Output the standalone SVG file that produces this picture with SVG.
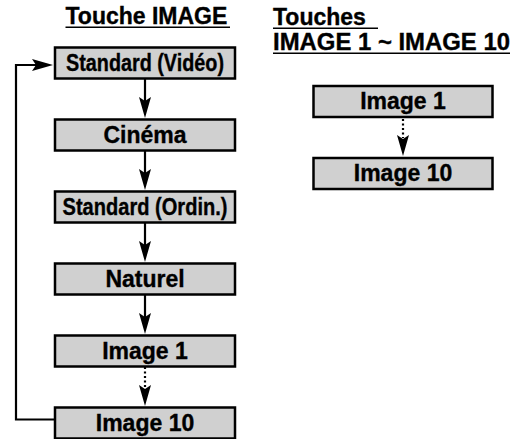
<svg xmlns="http://www.w3.org/2000/svg" xmlns:xlink="http://www.w3.org/1999/xlink" width="522" height="439" viewBox="0 0 522 439">
<style>
  .box { fill: #d0d0d0; stroke: #000; stroke-width: 2.5; }
  .lbl { font-family: "Liberation Sans", Arial, Helvetica, sans-serif; font-weight: bold; font-size: 23px; fill: #000; stroke: #000; stroke-width: 0.35; text-anchor: middle; }
  .ttl { font-family: "Liberation Sans", Arial, Helvetica, sans-serif; font-weight: bold; font-size: 23px; fill: #000; stroke: #000; stroke-width: 0.35; }
  .ul { stroke: #000; stroke-width: 1.6; }
  .ln { fill: none; stroke: #000; stroke-width: 2.2; }
  .dot { fill: none; stroke: #000; stroke-width: 2.2; stroke-dasharray: 2 2.5; }
  .ah { fill: #000; }
</style>
<defs>
  <path id="ah" class="ah" d="M0,0 L-6,-21 L0,-17 L6,-21 Z"/>
</defs>

<g id="titles">
  <text class="ttl" x="65.5" y="24">Touche IMAGE</text>
  <line class="ul" x1="65.5" y1="27.2" x2="230" y2="27.2"/>
  <text class="ttl" x="273" y="25">Touches</text>
  <line class="ul" x1="273" y1="28.2" x2="378" y2="28.2"/>
  <text class="ttl" x="273" y="50" textLength="237" lengthAdjust="spacingAndGlyphs">IMAGE 1 ~ IMAGE 10</text>
  <line class="ul" x1="273" y1="53.2" x2="510" y2="53.2"/>
</g>

<g id="connectors">
  <line class="ln" x1="145" y1="79" x2="145" y2="104"/>
  <use xlink:href="#ah" href="#ah" transform="translate(145,118)"/>
  <line class="ln" x1="145" y1="151" x2="145" y2="176"/>
  <use xlink:href="#ah" href="#ah" transform="translate(145,190)"/>
  <line class="ln" x1="145" y1="223" x2="145" y2="248"/>
  <use xlink:href="#ah" href="#ah" transform="translate(145,262)"/>
  <line class="ln" x1="145" y1="295" x2="145" y2="320"/>
  <use xlink:href="#ah" href="#ah" transform="translate(145,334)"/>
  <line class="dot" x1="145" y1="367" x2="145" y2="388"/>
  <use xlink:href="#ah" href="#ah" transform="translate(145,406)"/>
  <path class="ln" d="M54,419.5 H16 V65 H40"/>
  <use xlink:href="#ah" href="#ah" transform="translate(53,65) rotate(-90)"/>
  <line class="dot" x1="403" y1="119" x2="403" y2="138"/>
  <use xlink:href="#ah" href="#ah" transform="translate(403,156)"/>
</g>

<g id="n-standard-video">
  <rect class="box" x="55" y="47.5" width="180" height="31"/>
  <text class="lbl" x="145" y="70.5" textLength="158" lengthAdjust="spacingAndGlyphs">Standard (Vidéo)</text>
</g>
<g id="n-cinema">
  <rect class="box" x="55" y="119.5" width="180" height="31"/>
  <text class="lbl" x="145" y="142.5">Cinéma</text>
</g>
<g id="n-standard-ordin">
  <rect class="box" x="55" y="191.5" width="180" height="31"/>
  <text class="lbl" x="145" y="214.5" textLength="165" lengthAdjust="spacingAndGlyphs">Standard (Ordin.)</text>
</g>
<g id="n-naturel">
  <rect class="box" x="55" y="263.5" width="180" height="31"/>
  <text class="lbl" x="145" y="286.5">Naturel</text>
</g>
<g id="n-image1">
  <rect class="box" x="55" y="335.5" width="180" height="31"/>
  <text class="lbl" x="145" y="358.5">Image 1</text>
</g>
<g id="n-image10">
  <rect class="box" x="55" y="407.5" width="180" height="31"/>
  <text class="lbl" x="145" y="430.5">Image 10</text>
</g>

<g id="r-image1">
  <rect class="box" x="313.5" y="86" width="179" height="31"/>
  <text class="lbl" x="403" y="109">Image 1</text>
</g>
<g id="r-image10">
  <rect class="box" x="313.5" y="158" width="179" height="31"/>
  <text class="lbl" x="403" y="181">Image 10</text>
</g>
</svg>
